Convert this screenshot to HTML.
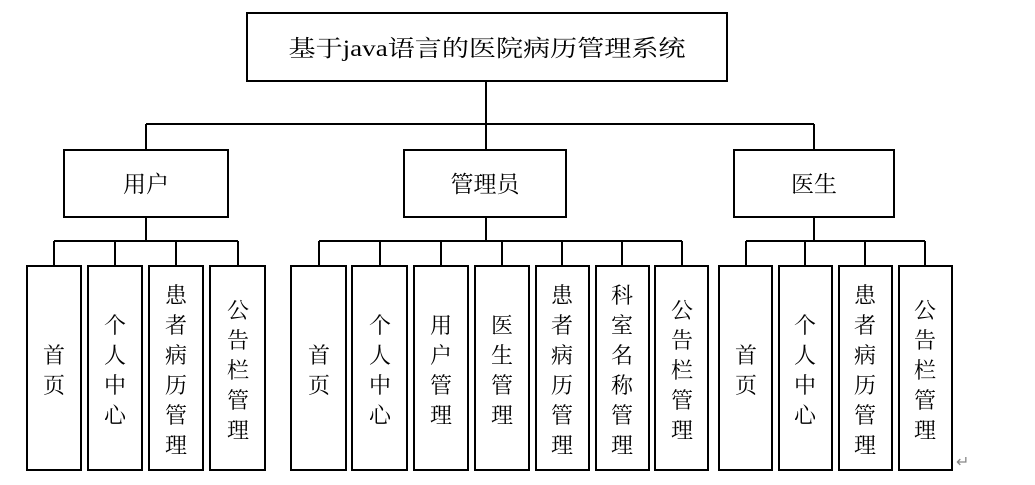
<!DOCTYPE html>
<html><head><meta charset="utf-8"><style>html,body{margin:0;padding:0;background:#fff;}svg{display:block}</style></head>
<body>
<svg width="1035" height="485" xmlns="http://www.w3.org/2000/svg" font-family="'Liberation Serif','Noto Serif CJK SC','Noto Sans CJK SC',serif" fill="none" stroke="#000" stroke-width="2">
<rect x="247" y="13" width="480" height="68"/>
<line x1="486" y1="81" x2="486" y2="150"/>
<line x1="146" y1="124" x2="814" y2="124"/>
<line x1="146" y1="124" x2="146" y2="150"/>
<line x1="814" y1="124" x2="814" y2="150"/>
<rect x="64" y="150" width="164" height="67"/>
<rect x="404" y="150" width="162" height="67"/>
<rect x="734" y="150" width="160" height="67"/>
<line x1="146" y1="217" x2="146" y2="241"/>
<line x1="486" y1="217" x2="486" y2="241"/>
<line x1="814" y1="217" x2="814" y2="241"/>
<line x1="54" y1="241" x2="238" y2="241"/>
<line x1="319" y1="241" x2="682" y2="241"/>
<line x1="746" y1="241" x2="925" y2="241"/>
<g>
<rect x="27" y="266" width="54" height="204"/><line x1="54" y1="241" x2="54" y2="266"/>
<rect x="88" y="266" width="54" height="204"/><line x1="115" y1="241" x2="115" y2="266"/>
<rect x="149" y="266" width="54" height="204"/><line x1="176" y1="241" x2="176" y2="266"/>
<rect x="210" y="266" width="55" height="204"/><line x1="238" y1="241" x2="238" y2="266"/>
<rect x="291" y="266" width="55" height="204"/><line x1="319" y1="241" x2="319" y2="266"/>
<rect x="352" y="266" width="55" height="204"/><line x1="380" y1="241" x2="380" y2="266"/>
<rect x="414" y="266" width="54" height="204"/><line x1="441" y1="241" x2="441" y2="266"/>
<rect x="475" y="266" width="54" height="204"/><line x1="502" y1="241" x2="502" y2="266"/>
<rect x="536" y="266" width="53" height="204"/><line x1="562" y1="241" x2="562" y2="266"/>
<rect x="596" y="266" width="53" height="204"/><line x1="622" y1="241" x2="622" y2="266"/>
<rect x="655" y="266" width="53" height="204"/><line x1="682" y1="241" x2="682" y2="266"/>
<rect x="719" y="266" width="53" height="204"/><line x1="746" y1="241" x2="746" y2="266"/>
<rect x="779" y="266" width="53" height="204"/><line x1="805" y1="241" x2="805" y2="266"/>
<rect x="839" y="266" width="53" height="204"/><line x1="865" y1="241" x2="865" y2="266"/>
<rect x="899" y="266" width="53" height="204"/><line x1="925" y1="241" x2="925" y2="266"/>
</g>
<g fill="#000" stroke="none" font-size="23" text-anchor="middle">
<text x="487" y="56" textLength="397" lengthAdjust="spacingAndGlyphs">基于java语言的医院病历管理系统</text>
<text x="146" y="192">用户</text>
<text x="485" y="192">管理员</text>
<text x="814" y="192">医生</text>
</g>
<g fill="#000" stroke="none" font-size="22" text-anchor="middle">
<text x="54" y="363">首</text><text x="54" y="393">页</text>
<text x="115" y="333">个</text><text x="115" y="363">人</text><text x="115" y="393">中</text><text x="115" y="423">心</text>
<text x="176" y="303">患</text><text x="176" y="333">者</text><text x="176" y="363">病</text><text x="176" y="393">历</text><text x="176" y="423">管</text><text x="176" y="453">理</text>
<text x="238" y="318">公</text><text x="238" y="348">告</text><text x="238" y="378">栏</text><text x="238" y="408">管</text><text x="238" y="438">理</text>
<text x="319" y="363">首</text><text x="319" y="393">页</text>
<text x="380" y="333">个</text><text x="380" y="363">人</text><text x="380" y="393">中</text><text x="380" y="423">心</text>
<text x="441" y="333">用</text><text x="441" y="363">户</text><text x="441" y="393">管</text><text x="441" y="423">理</text>
<text x="502" y="333">医</text><text x="502" y="363">生</text><text x="502" y="393">管</text><text x="502" y="423">理</text>
<text x="562" y="303">患</text><text x="562" y="333">者</text><text x="562" y="363">病</text><text x="562" y="393">历</text><text x="562" y="423">管</text><text x="562" y="453">理</text>
<text x="622" y="303">科</text><text x="622" y="333">室</text><text x="622" y="363">名</text><text x="622" y="393">称</text><text x="622" y="423">管</text><text x="622" y="453">理</text>
<text x="682" y="318">公</text><text x="682" y="348">告</text><text x="682" y="378">栏</text><text x="682" y="408">管</text><text x="682" y="438">理</text>
<text x="746" y="363">首</text><text x="746" y="393">页</text>
<text x="805" y="333">个</text><text x="805" y="363">人</text><text x="805" y="393">中</text><text x="805" y="423">心</text>
<text x="865" y="303">患</text><text x="865" y="333">者</text><text x="865" y="363">病</text><text x="865" y="393">历</text><text x="865" y="423">管</text><text x="865" y="453">理</text>
<text x="925" y="318">公</text><text x="925" y="348">告</text><text x="925" y="378">栏</text><text x="925" y="408">管</text><text x="925" y="438">理</text>
</g>
<text x="956" y="467" font-size="16" fill="#888" stroke="none">↵</text>
</svg>
</body></html>
